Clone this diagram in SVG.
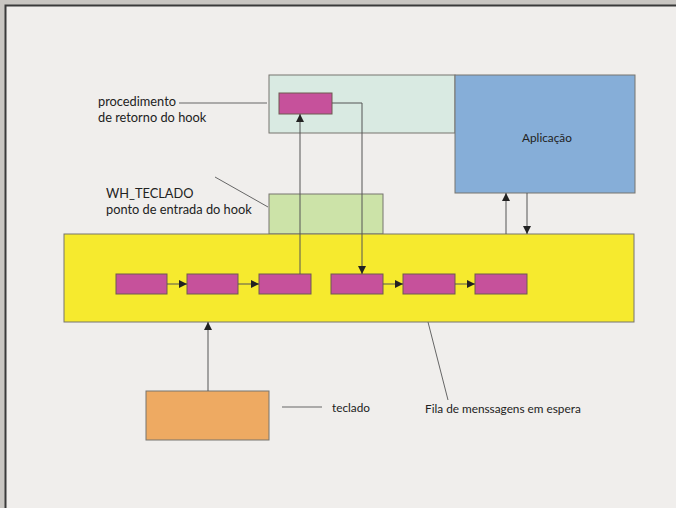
<svg xmlns="http://www.w3.org/2000/svg" width="676" height="508" viewBox="0 0 676 508">
<defs>
<style>
.box{stroke:#77746e;stroke-width:1}
.q{fill:#c6519b;stroke:#6e5a50;stroke-width:1}
.ln{stroke:#555;stroke-width:1;fill:none}
.lead{stroke:#666;stroke-width:1;fill:none}
.t{font-family:Lato,"Open Sans","Liberation Sans",sans-serif;font-size:12.8px;fill:#222}
.s{font-size:11.8px}
</style>
<marker id="ah" viewBox="0 0 10 10" refX="10" refY="5" markerWidth="8" markerHeight="8" markerUnits="userSpaceOnUse" orient="auto">
<path d="M0,0 L10,5 L0,10 z" fill="#222"/>
</marker>
</defs>
<rect x="0" y="0" width="676" height="508" fill="#c9c6c2"/>
<rect x="6" y="6" width="670" height="502" fill="#f0eeec"/>
<path d="M5.5,508 V5.5 H676" fill="none" stroke="#3a3a3a" stroke-width="2"/>

<g id="hookproc">
<rect class="box" x="269" y="75" width="186" height="58" fill="#d9eae2"/>
<rect class="q" x="279" y="93" width="53" height="21"/>
</g>
<g id="app">
<rect class="box" x="455" y="75" width="180" height="118" fill="#86aed8"/>
<text class="t s" x="547" y="142" text-anchor="middle">Aplicação</text>
</g>
<g id="entrypoint">
<rect class="box" x="269" y="194" width="114" height="40" fill="#cce3a8"/>
</g>
<g id="queue">
<rect class="box" x="64" y="234" width="570" height="88" fill="#f6ea2e"/>
<rect class="q" x="116" y="274" width="51" height="20"/>
<rect class="q" x="187" y="274" width="51" height="20"/>
<rect class="q" x="259" y="274" width="52" height="20"/>
<rect class="q" x="331" y="274" width="52" height="20"/>
<rect class="q" x="403" y="274" width="52" height="20"/>
<rect class="q" x="475" y="274" width="52" height="20"/>
</g>
<g id="keyboard">
<rect class="box" x="146" y="391" width="123" height="49" fill="#eeaa62"/>
</g>

<g id="labels">
<text class="t" x="98" y="106">procedimento</text>
<text class="t" x="98" y="122">de retorno do hook</text>
<text class="t" x="106" y="198">WH_TECLADO</text>
<text class="t" x="106" y="214">ponto de entrada do hook</text>
<text class="t s" x="332" y="412">teclado</text>
<text class="t s" x="425" y="413">Fila de menssagens em espera</text>
</g>

<g id="connectors">
<line class="lead" x1="179" y1="103" x2="267" y2="103"/>
<line class="lead" x1="215" y1="177" x2="268" y2="207"/>
<line class="lead" x1="282" y1="407" x2="322" y2="407"/>
<line class="lead" x1="428" y1="322" x2="448" y2="400"/>
<line class="ln" x1="167" y1="284" x2="187" y2="284" marker-end="url(#ah)"/>
<line class="ln" x1="238" y1="284" x2="259" y2="284" marker-end="url(#ah)"/>
<line class="ln" x1="383" y1="284" x2="403" y2="284" marker-end="url(#ah)"/>
<line class="ln" x1="455" y1="284" x2="475" y2="284" marker-end="url(#ah)"/>
<line class="ln" x1="300" y1="274" x2="300" y2="114" marker-end="url(#ah)"/>
<path class="ln" d="M332,103 H362 V274" marker-end="url(#ah)"/>
<line class="ln" x1="506" y1="234" x2="506" y2="193" marker-end="url(#ah)"/>
<line class="ln" x1="527" y1="193" x2="527" y2="234" marker-end="url(#ah)"/>
<line class="ln" x1="208" y1="391" x2="208" y2="322" marker-end="url(#ah)"/>
</g>
</svg>
